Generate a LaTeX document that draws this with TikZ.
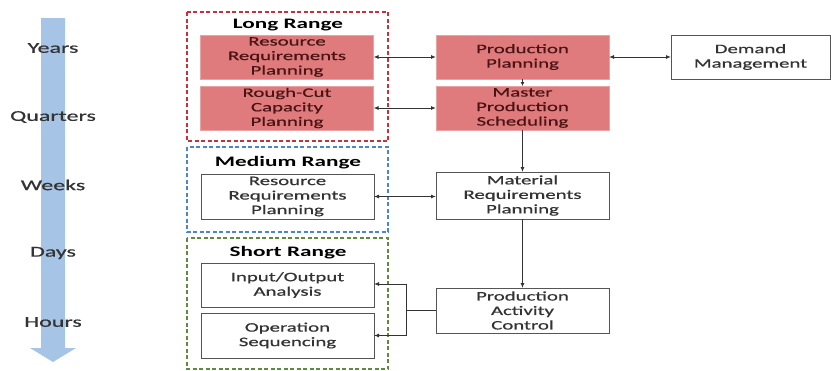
\documentclass[tikz,border=0pt]{standalone}
\usepackage{fontspec}
\usetikzlibrary{arrows.meta}
\newfontfamily\dfont[FakeStretch=1.6,UprightFeatures={FakeBold=0.6}]{Carlito}
\definecolor{tlblue}{HTML}{A6C4E6}
\definecolor{lrfill}{HTML}{DF7B7C}
\definecolor{lredge}{HTML}{E9A3A3}
\definecolor{lrtext}{HTML}{4A1414}
\definecolor{boxedge}{HTML}{555555}
\definecolor{txt}{HTML}{333333}
\definecolor{longc}{HTML}{C8303A}
\definecolor{medc}{HTML}{4A86C8}
\definecolor{shortc}{HTML}{5E8C3C}
\begin{document}
\begin{tikzpicture}[x=1pt,y=-1pt,
  every node/.style={inner sep=0pt,outer sep=0pt},
  proc/.style={draw=boxedge,line width=1pt,fill=white,rectangle,align=center,
    minimum width=173pt,text=txt,font=\dfont\fontsize{13}{14.5}\selectfont},
  hot/.style={proc,draw=lredge,fill=lrfill,text=lrtext},
  frame/.style={dashed,dash pattern=on 4pt off 2.5pt,line width=1.1pt},
  rangetitle/.style={font=\dfont\bfseries\fontsize{14.5}{16}\selectfont,text=black},
  scale label/.style={font=\dfont\fontsize{15}{17}\selectfont,text=txt},
  link/.style={line width=0.9pt,draw=black!80},
  tip/.style={-{Latex[length=5pt,width=4pt]}},
  tips/.style={{Latex[length=5pt,width=4pt]}-{Latex[length=5pt,width=4pt]}}]
\useasboundingbox (0,0) rectangle (831,370);
\fill[white] (0,0) rectangle (831,370);

% time scale arrow
\fill[tlblue] (41,18) -- (65,18) -- (65,348) -- (76,348) -- (53,362) -- (30,348) -- (41,348) -- cycle;
\node[scale label] (years) at (53,48) {Years};
\node[scale label] (quarters) at (53,117) {Quarters};
\node[scale label] (weeks) at (53,185) {Weeks};
\node[scale label] (days) at (53,253) {Days};
\node[scale label] (hours) at (53,322) {Hours};

% planning horizons
\draw[frame,draw=longc] (187,12) rectangle (388,141);
\draw[frame,draw=medc] (187,147) rectangle (388,232);
\draw[frame,draw=shortc] (187,238) rectangle (388,369);
\node[rangetitle] (tlong) at (288,25) {Long Range};
\node[rangetitle] (tmed) at (288,163) {Medium Range};
\node[rangetitle] (tshort) at (288,253) {Short Range};

% long range
\node[hot,minimum height=44pt] (rrpL) at (287,57) {Resource\\Requirements\\Planning};
\node[hot,minimum height=44pt] (rccp) at (287,108) {Rough-Cut\\Capacity\\Planning};
\node[hot,minimum height=44pt] (pp) at (522.5,57) {Production\\Planning};
\node[hot,minimum height=44pt] (mps) at (522.5,108) {Master\\Production\\Scheduling};
\node[proc,minimum width=159pt,minimum height=44pt] (dm) at (750.5,57) {Demand\\Management};

% medium range
\node[proc,minimum height=45pt] (rrpM) at (287.5,196.5) {Resource\\Requirements\\Planning};
\node[proc,minimum height=47pt] (mrp) at (522.5,195.5) {Material\\Requirements\\Planning};

% short range
\node[proc,minimum height=44pt] (io) at (287.5,285) {Input/Output\\Analysis};
\node[proc,minimum height=45pt] (ops) at (287.5,335.5) {Operation\\Sequencing};
\node[proc,minimum height=45pt] (pac) at (522.5,310.5) {Production\\Activity\\Control};

% connectors
\draw[link,tips] (rrpL.east) -- (pp.west);
\draw[link,tips] (rccp.east) -- (mps.west);
\draw[link,tips] (pp.east) -- (dm.west);
\draw[link,-{Latex[length=4pt,width=4pt]}] (pp.south) -- (mps.north);
\draw[link,tip] (mps.south) -- (mrp.north);
\draw[link,tips] (rrpM.east) -- (rrpM.east -| mrp.west);
\draw[link,tip] (mrp.south) -- (pac.north);
\coordinate (split) at (406,310.5);
\draw[link] (pac.west) -- (split);
\draw[link,tip] (split) |- ([yshift=1pt]io.east);
\draw[link,tip] (split) |- (ops.east);
\end{tikzpicture}
\end{document}
